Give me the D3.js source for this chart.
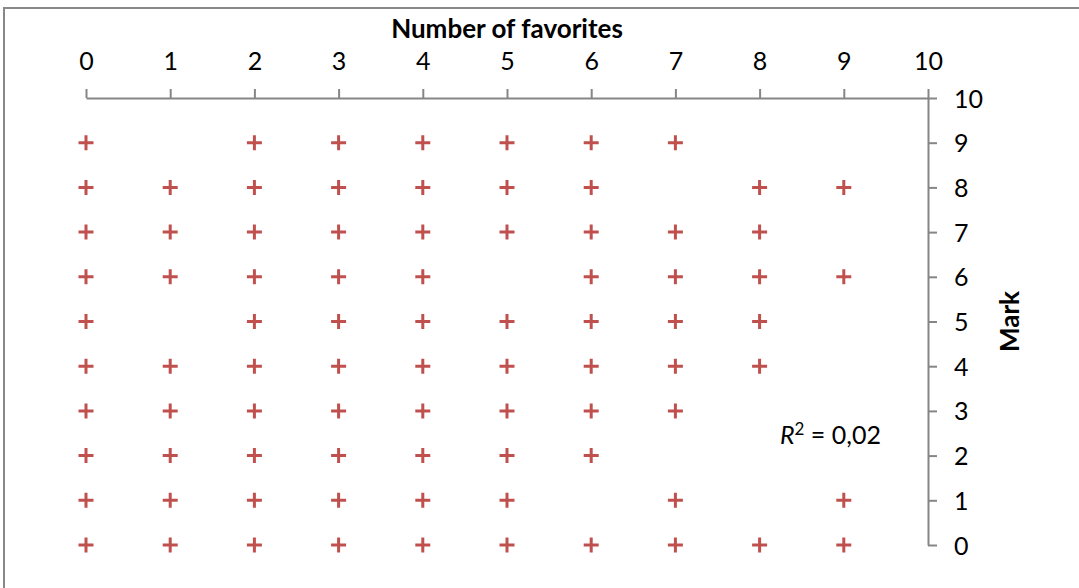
<!DOCTYPE html>
<html><head><meta charset="utf-8">
<script src="https://cdn.jsdelivr.net/npm/d3@7"></script>
<style>body{margin:0;background:#fff}svg{display:block}text{font-family:Lato,"Open Sans",sans-serif;fill:#000}</style>
</head><body><svg id="c" width="1079" height="588"></svg>
<script>
const favorites = [0,2,3,4,5,6,7, 0,1,2,3,4,5,6,8,9, 0,1,2,3,4,5,6,7,8, 0,1,2,3,4,6,7,8,9, 0,2,3,4,5,6,7,8, 0,1,2,3,4,5,6,7,8, 0,1,2,3,4,5,6,7, 0,1,2,3,4,5,6, 0,1,2,3,4,5,7,9, 0,1,2,3,4,5,6,7,8,9];
const marks     = [9,9,9,9,9,9,9, 8,8,8,8,8,8,8,8,8, 7,7,7,7,7,7,7,7,7, 6,6,6,6,6,6,6,6,6, 5,5,5,5,5,5,5,5, 4,4,4,4,4,4,4,4,4, 3,3,3,3,3,3,3,3, 2,2,2,2,2,2,2, 1,1,1,1,1,1,1,1, 0,0,0,0,0,0,0,0,0,0];
const xTicks = [0,1,2,3,4,5,6,7,8,9,10];
const yTicks = [0,1,2,3,4,5,6,7,8,9,10];
const xTitle = "Number of favorites", yTitle = "Mark", rSquared = "0,02";

const svg = d3.select("#c");
svg.append("rect").attr("x",4).attr("y",8).attr("width",1090).attr("height",600)
  .attr("fill","none").attr("stroke","#888").attr("stroke-width",2);
const x = d3.scaleLinear().domain([0,10]).range([86,928]);
const y = d3.scaleLinear().domain([0,10]).range([545,98]);
const axisColor = "#868686";
const fs = "25px";

const gx = svg.append("g").attr("transform","translate(0,98)")
  .call(d3.axisTop(x).tickValues(xTicks).tickSize(9).tickPadding(19).tickSizeOuter(0));
const gy = svg.append("g").attr("transform","translate(928,0)")
  .call(d3.axisRight(y).tickValues(yTicks).tickSize(9).tickPadding(17).tickSizeOuter(0));
[gx,gy].forEach(g=>{
  g.attr("font-size",null).attr("font-family",null);
  g.selectAll("path.domain").attr("stroke",axisColor).attr("stroke-width",2);
  g.selectAll(".tick line").attr("stroke",axisColor).attr("stroke-width",2);
  g.selectAll(".tick text").style("font-size",fs).attr("fill","#000");
});
gx.selectAll(".tick text").attr("dy","0");
gy.selectAll(".tick text").attr("dy","0.36em");

svg.append("text").attr("x",x(5)).attr("y",38).attr("text-anchor","middle")
  .style("font-size","26px").style("font-weight","bold").text(xTitle);
svg.append("text").attr("transform","translate(1019,"+y(5)+") rotate(-90)").attr("text-anchor","middle")
  .style("font-size","26px").style("font-weight","bold").text(yTitle);

const r2 = svg.append("text").attr("x",780).attr("y",444).style("font-size",fs);
r2.append("tspan").style("font-style","italic").text("R");
r2.append("tspan").attr("dy","-9").style("font-size","17px").text("2");
r2.append("tspan").attr("dy","9").text(" = " + rSquared);

const pts = favorites.map((f,i)=>({f, m:marks[i]}));
const sz = 7.5;
svg.append("g").selectAll("path").data(pts).join("path")
  .attr("d", d => `M${x(d.f)-sz},${y(d.m)}H${x(d.f)+sz}M${x(d.f)},${y(d.m)-sz}V${y(d.m)+sz}`)
  .attr("stroke","#c0504d").attr("stroke-width",3).attr("fill","none");
</script></body></html>
